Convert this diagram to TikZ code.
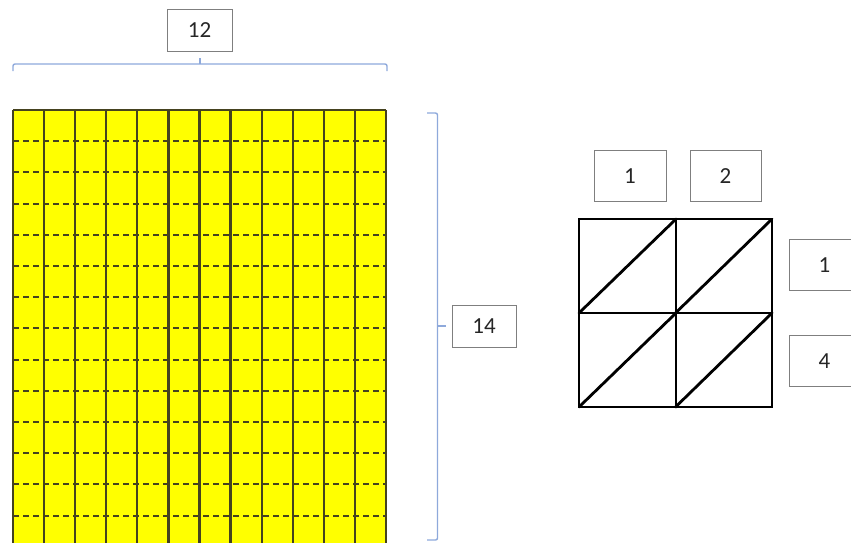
\documentclass[tikz,border=0pt]{standalone}
\usepackage{fontspec}
\setmainfont{Carlito}
\usepackage{xcolor}
\usetikzlibrary{positioning}
\definecolor{bracecol}{HTML}{8EA9DB}
\definecolor{boxgray}{HTML}{7F7F7F}
\definecolor{gridcol}{HTML}{45421F}
\definecolor{cellfill}{HTML}{FFFF00}

\begin{document}
\begin{tikzpicture}[x=1pt,y=-1pt]

        % Block definitions
        \tikzstyle{numbox} = [draw=boxgray, rectangle, line width=1pt, minimum width=65pt, minimum height=42pt, inner sep=0pt, font=\fontsize{23}{27}\selectfont, text=black!85]
        \tikzstyle{brace} = [draw=bracecol, line width=1.4pt, rounded corners=2pt]
        \tikzstyle{lattice} = [line width=2.8pt, line cap=round]

        \useasboundingbox (0,0) rectangle (851,542);
        \clip (0,0) rectangle (851,542);

        % Yellow grid, 12 by 14
        \fill[cellfill] (13,110) rectangle (386,546.8);
        \foreach \r in {1,...,13} {
            \draw[gridcol, line width=2pt, dash pattern=on 6pt off 4pt] (13,{110+31.2*\r}) -- (386,{110+31.2*\r});
        }
        \foreach \c in {0,...,12} {
            \draw[gridcol, line width=2.2pt] ({13+373/12*\c},110) -- ({13+373/12*\c},546.8);
        }
        \draw[gridcol, line width=2.2pt] (13,110) -- (386,110);

        % Braces and labels
        \node[numbox] (top) at (199.5,30.5) {12};
        \node[numbox, minimum width=64pt] (side) at (484,326) {14};
        \coordinate (toptip) at (200,58);
        \coordinate (sidetip) at (446,326);
        \draw[brace] (13,71) -- (13,64) -- (387,64) -- (387,71);
        \draw[draw=bracecol, line width=1.4pt] (200,64) -- (toptip);
        \draw[brace] (427,113) -- (437.5,113) -- (437.5,540) -- (427,540);
        \draw[draw=bracecol, line width=1.4pt] (437.5,326) -- (sidetip);

        % Lattice
        \coordinate (lat) at (579,219);
        \draw[lattice] (579,219) rectangle (772,407);
        \draw[lattice] (676,219) -- (676,407);
        \draw[lattice] (579,313) -- (772,313);
        \foreach \i/\j in {0/0,1/0,0/1,1/1} {
            \draw[lattice] ({579+96.5*\i},{313+94*\j}) -- ({676+96*\i},{219+94*\j});
        }

        % Digit boxes
        \node[numbox, minimum width=72pt, minimum height=51pt] (tens) at (630,176) {1};
        \node[numbox, minimum width=71pt, minimum height=51pt, right=23pt of tens] (ones) {2};
        \node[numbox, minimum width=71pt, minimum height=51pt] (rowa) at (824.5,265) {1};
        \node[numbox, minimum width=71pt, minimum height=51pt, below=44pt of rowa] (rowb) {4};

\end{tikzpicture}
\end{document}
